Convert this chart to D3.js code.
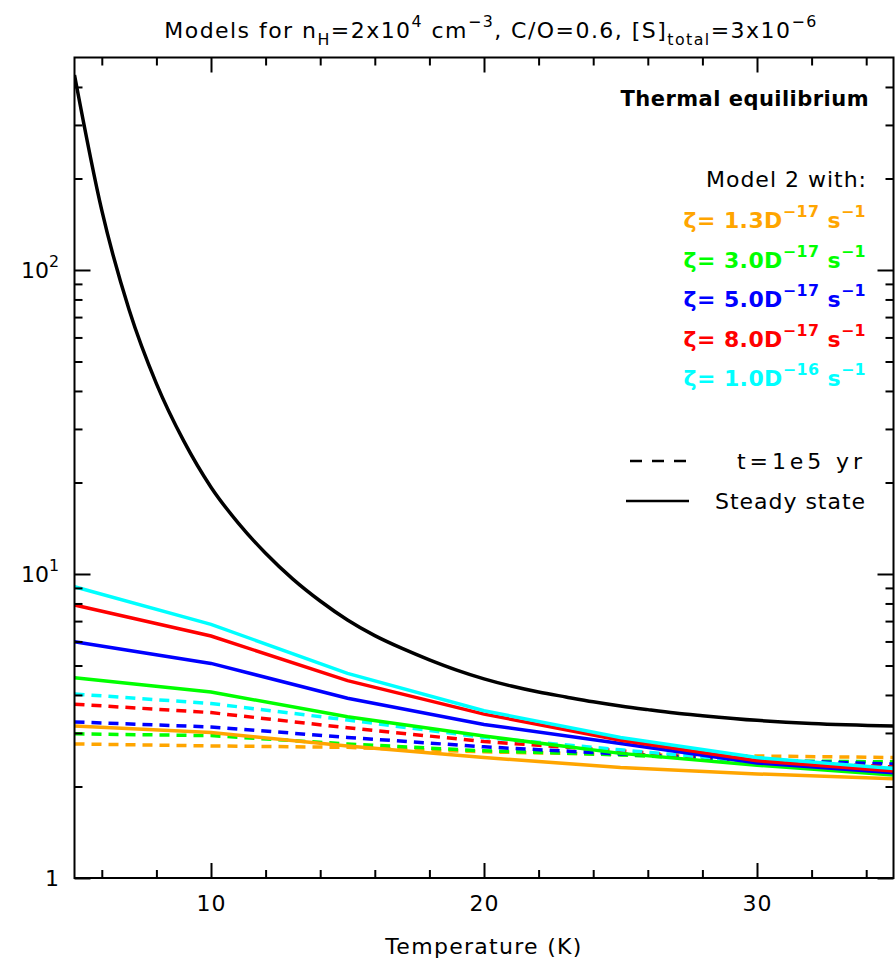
<!DOCTYPE html>
<html>
<head>
<meta charset="utf-8">
<script src="https://cdn.jsdelivr.net/npm/d3@7"></script>
<style>
  html, body { margin: 0; padding: 0; background: #fff; }
  svg { display: block; }
  text { font-family: "DejaVu Sans", sans-serif; fill: #000; }
</style>
</head>
<body>
<script>
// Temperatures at which the models were evaluated
const temps = [5, 10, 15, 20, 25, 30, 35];

// Cosmic-ray ionisation rates (labels and colours)
const zetaLabels = ["1.3", "3.0", "5.0", "8.0", "1.0"];
const zetaExps = ["\u221217", "\u221217", "\u221217", "\u221217", "\u221216"];
const zetaColors = ["#ffa500", "#00ff00", "#0000ff", "#ff0000", "#00ffff"];

// Steady-state abundances for each rate
const steady13 = [3.16, 3.01, 2.72, 2.49, 2.31, 2.20, 2.12];
const steady30 = [4.56, 4.09, 3.39, 2.93, 2.57, 2.35, 2.18];
const steady50 = [5.99, 5.08, 3.90, 3.20, 2.77, 2.39, 2.22];
const steady80 = [7.91, 6.25, 4.46, 3.46, 2.84, 2.43, 2.25];
const steady100 = [9.08, 6.83, 4.71, 3.55, 2.90, 2.49, 2.29];

// Values at t = 1e5 yr for each rate
const early13 = [2.76, 2.72, 2.69, 2.60, 2.55, 2.52, 2.49];
const early30 = [2.98, 2.94, 2.76, 2.62, 2.54, 2.43, 2.41];
const early50 = [3.26, 3.14, 2.90, 2.70, 2.56, 2.44, 2.37];
const early80 = [3.73, 3.50, 3.12, 2.81, 2.62, 2.42, 2.32];
const early100 = [4.03, 3.75, 3.31, 2.90, 2.64, 2.41, 2.29];

// Thermal-equilibrium steady-state curve
const thermTemps = [5, 6, 7, 8, 9, 10, 11, 12, 13, 14, 15, 16, 17, 18, 19, 20, 21, 22, 23, 24, 25, 26, 27, 28, 30, 32, 35];
const thermVals = [438, 157, 74, 42.3, 27.4, 19.3, 14.7, 11.7, 9.62, 8.15, 7.06, 6.27, 5.69, 5.22, 4.83, 4.52,
                   4.28, 4.09, 3.94, 3.80, 3.68, 3.58, 3.49, 3.42, 3.30, 3.22, 3.16];

// Axis ticks
const xMajor = [10, 20, 30];
const xMinor = [6, 8, 12, 14, 16, 18, 22, 24, 26, 28, 32, 34];
const yMajor = [1, 10, 100];
const yMajorExp = ["", "1", "2"];
const yMinor = [2, 3, 4, 5, 6, 7, 8, 9, 20, 30, 40, 50, 60, 70, 80, 90, 200, 300, 400];

const steadySeries = [steady13, steady30, steady50, steady80, steady100];
const earlySeries = [early13, early30, early50, early80, early100];

const W = 895, H = 966;
const L = 74.5, R = 893.5, T = 57.5, B = 878;

const svg = d3.select("body").append("svg").attr("width", W).attr("height", H);

const x = d3.scaleLinear().domain([5, 35]).range([L, R]);
const y = d3.scaleLog().domain([1, 500]).range([B, T]);

// Text with super/subscripts: parts = [[string, "n"|"sup"|"sub"], ...]
function rich(sel, parts, fs) {
  let off = 0;
  parts.forEach(([s, kind]) => {
    const target = kind === "sup" ? -0.5 * fs : kind === "sub" ? 0.3 * fs : 0;
    sel.append("tspan").text(s)
      .attr("dy", target - off)
      .style("font-size", (kind === "n" ? fs : fs * 0.72) + "px");
    off = target;
  });
  return sel;
}

// Widen a label with letter spacing so it spans the given width
function spread(sel, width) {
  const w = sel.node().getBBox().width;
  const n = sel.text().length;
  if (n > 1) sel.style("letter-spacing", ((width - w) / (n - 1)) + "px");
  return sel;
}

// Curves
const line = d3.line().x((d, i) => x(temps[i])).y(d => y(d));
svg.append("defs").append("clipPath").attr("id", "clip")
  .append("rect").attr("x", L).attr("y", T).attr("width", R - L).attr("height", B - T);
const curves = svg.append("g").attr("clip-path", "url(#clip)");

earlySeries.forEach((s, k) => {
  curves.append("path").datum(s).attr("d", line)
    .attr("fill", "none").attr("stroke", zetaColors[k])
    .attr("stroke-width", 3.5).attr("stroke-dasharray", "10,7");
});
steadySeries.forEach((s, k) => {
  curves.append("path").datum(s).attr("d", line)
    .attr("fill", "none").attr("stroke", zetaColors[k])
    .attr("stroke-width", 3.5);
});
const thermLine = d3.line().x((d, i) => x(thermTemps[i])).y(d => y(d)).curve(d3.curveMonotoneX);
curves.append("path").datum(thermVals).attr("d", thermLine)
  .attr("fill", "none").attr("stroke", "#000").attr("stroke-width", 3.5);

// Axes (ticks point inward on all four sides)
function styleAxis(g) {
  g.select(".domain").remove();
  g.selectAll(".tick line").attr("stroke", "#000").attr("stroke-width", 2);
}
function noLabels(g) {
  styleAxis(g);
  g.selectAll(".tick text").remove();
}
svg.append("g").attr("transform", `translate(0,${B})`)
  .call(d3.axisBottom(x).tickValues(xMajor).tickSize(-15).tickPadding(17).tickFormat(d3.format("d")))
  .call(styleAxis)
  .selectAll("text").style("font-size", "22px").style("font-family", "DejaVu Sans")
  .attr("fill", "#000").style("letter-spacing", "1px");
svg.append("g").attr("transform", `translate(0,${B})`)
  .call(d3.axisBottom(x).tickValues(xMinor).tickSize(-8)).call(noLabels);
svg.append("g").attr("transform", `translate(0,${T})`)
  .call(d3.axisTop(x).tickValues(xMajor).tickSize(-15)).call(noLabels);
svg.append("g").attr("transform", `translate(0,${T})`)
  .call(d3.axisTop(x).tickValues(xMinor).tickSize(-8)).call(noLabels);
svg.append("g").attr("transform", `translate(${L},0)`)
  .call(d3.axisLeft(y).tickValues(yMajor).tickSize(-16)).call(noLabels);
svg.append("g").attr("transform", `translate(${L},0)`)
  .call(d3.axisLeft(y).tickValues(yMinor).tickSize(-8)).call(noLabels);
svg.append("g").attr("transform", `translate(${R},0)`)
  .call(d3.axisRight(y).tickValues(yMajor).tickSize(-16)).call(noLabels);
svg.append("g").attr("transform", `translate(${R},0)`)
  .call(d3.axisRight(y).tickValues(yMinor).tickSize(-8)).call(noLabels);

// Frame
svg.append("rect").attr("x", L).attr("y", T).attr("width", R - L).attr("height", B - T)
  .attr("fill", "none").attr("stroke", "#000").attr("stroke-width", 2);

// Y tick labels (powers of ten)
yMajor.forEach((v, i) => {
  const t = svg.append("text").attr("x", 59).attr("y", y(v) + 8)
    .attr("text-anchor", "end");
  if (v === 1) rich(t, [["1", "n"]], 22);
  else rich(t, [["10", "n"], [yMajorExp[i], "sup"]], 22);
});

// Axis title
spread(svg.append("text").attr("x", (L + R) / 2).attr("y", 954).attr("text-anchor", "middle")
  .style("font-size", "22px").text("Temperature (K)"), 197);

// Title
spread(rich(svg.append("text").attr("x", 491).attr("y", 38).attr("text-anchor", "middle"),
  [["Models for n", "n"], ["H", "sub"], ["=2x10", "n"], ["4", "sup"], [" cm", "n"], ["\u22123", "sup"],
   [", C/O=0.6, [S]", "n"], ["total", "sub"], ["=3x10", "n"], ["\u22126", "sup"]], 22), 652);

// Panel label
spread(svg.append("text").attr("x", 869).attr("y", 106).attr("text-anchor", "end")
  .style("font-size", "21px").style("font-weight", "bold").text("Thermal equilibrium"), 248);

// Rate legend
spread(svg.append("text").attr("x", 867).attr("y", 187).attr("text-anchor", "end")
  .style("font-size", "22px").text("Model 2 with:"), 160);
zetaLabels.forEach((lab, k) => {
  const t = svg.append("text").attr("x", 866).attr("y", 228 + k * 39.5)
    .attr("text-anchor", "end").style("font-weight", "bold")
    .style("fill", zetaColors[k]);
  spread(rich(t, [["\u03b6= " + lab + "D", "n"], [zetaExps[k], "sup"], [" s", "n"], ["\u22121", "sup"]], 22), 182);
});

// Line-style legend
svg.append("line").attr("x1", 630).attr("x2", 690).attr("y1", 461).attr("y2", 461)
  .attr("stroke", "#000").attr("stroke-width", 2.5).attr("stroke-dasharray", "12,10");
spread(svg.append("text").attr("x", 866).attr("y", 469).attr("text-anchor", "end")
  .style("font-size", "22px").text("t=1e5 yr"), 126);
svg.append("line").attr("x1", 626).attr("x2", 689).attr("y1", 501).attr("y2", 501)
  .attr("stroke", "#000").attr("stroke-width", 2.5);
spread(svg.append("text").attr("x", 866).attr("y", 509).attr("text-anchor", "end")
  .style("font-size", "22px").text("Steady state"), 150);
</script>
</body>
</html>
